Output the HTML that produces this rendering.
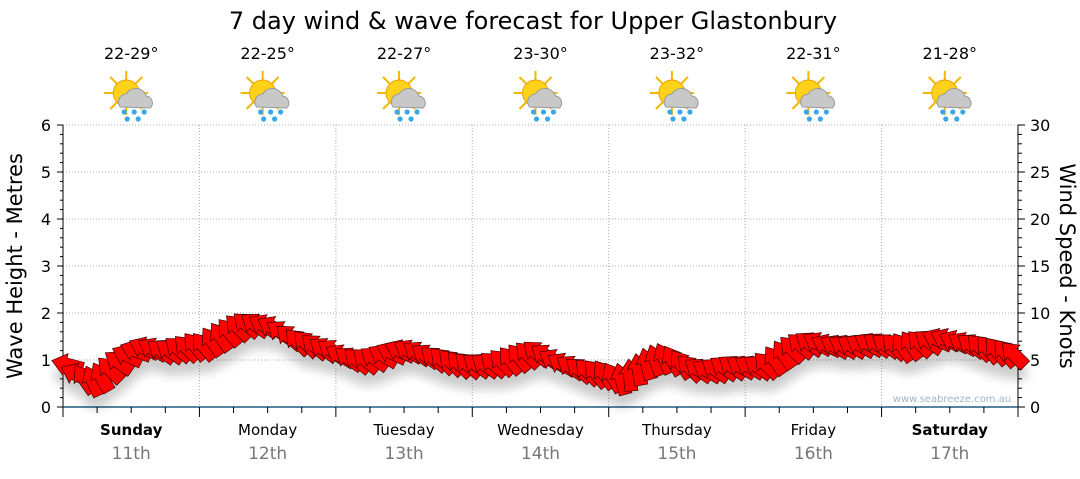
<!DOCTYPE html>
<html><head><meta charset="utf-8"><style>
body{margin:0;background:#fff;width:1080px;height:475px;overflow:hidden;font-family:"DejaVu Sans","Liberation Sans",sans-serif}
</style></head><body>
<svg id="chart" width="1080" height="475" xmlns="http://www.w3.org/2000/svg">
<defs>
<filter id="sh" x="-50%" y="-50%" width="200%" height="200%"><feGaussianBlur stdDeviation="5"/></filter>
<g id="icon">
<g stroke="#f2b800" stroke-width="2">
<line x1="0" y1="-22" x2="0" y2="22"/><line x1="-22" y1="0" x2="22" y2="0"/>
<line x1="-16" y1="-16" x2="16" y2="16"/><line x1="-16" y1="16" x2="16" y2="-16"/>
</g>
<circle cx="0" cy="0" r="13" fill="#ffd21a" stroke="#f0a000"/>
<path d="M-6 14 a8 8 0 0 1 6 -13 a11 11 0 0 1 20 2 a7 7 0 0 1 4 12 z" fill="#c8c8c8" stroke="#999"/>
<g fill="#3aa7e8"><circle cx="-2" cy="19" r="2.6"/><circle cx="8" cy="19" r="2.6"/><circle cx="18" cy="19" r="2.6"/><circle cx="1" cy="26" r="2.6"/><circle cx="12" cy="26" r="2.6"/></g>
</g>
</defs>
<text x="533" y="29" text-anchor="middle" font-size="24" fill="#000">7 day wind &amp; wave forecast for Upper Glastonbury</text>
<g id="grid"></g>
<g id="axes"></g>
<g id="icons"></g>
<g id="shadow" filter="url(#sh)" opacity="0.2"></g>
<g id="arrows"></g>
<text x="952" y="402" text-anchor="middle" font-size="10" fill="#a0b4c8">www.seabreeze.com.au</text>
<text transform="translate(22,266) rotate(-90)" text-anchor="middle" font-size="21" fill="#000">Wave Height - Metres</text>
<text transform="translate(1060,266) rotate(90)" text-anchor="middle" font-size="21" fill="#000">Wind Speed - Knots</text>
</svg>
<script>
const days=["Sunday","Monday","Tuesday","Wednesday","Thursday","Friday","Saturday"];
const dates=["11th","12th","13th","14th","15th","16th","17th"];
const temps=["22-29°","22-25°","22-27°","23-30°","23-32°","22-31°","21-28°"];
const waveTicks=[0,1,2,3,4,5,6];
const windTicks=[0,5,10,15,20,25,30];
const windSpeed=[4.5,3.5,3,2.8,3.2,4,4.8,5.5,6,6.3,6.2,6,6,6.2,6.3,6.5,
6.5,7,7.5,8,8.5,8.8,8.8,8.7,8.5,8,7.5,7,6.8,6.5,6.2,6,
5.5,5.2,5,5,5.2,5.5,5.8,6,6,5.8,5.5,5.2,5,4.8,4.6,4.5,
4.5,4.5,4.6,4.8,5,5.3,5.6,5.8,5.5,5,4.6,4.3,4,3.8,3.6,3.5,
3.2,3,3.4,4,4.6,5,5.2,5,4.6,4.2,4,3.9,4,4.2,4.3,4.3,
4.3,4.3,4.5,5,5.6,6.2,6.6,6.8,6.8,6.6,6.5,6.5,6.5,6.6,6.7,6.7,
6.6,6.5,6.4,6.6,6.8,7,7.2,7.2,7,6.8,6.6,6.4,6.2,6,5.8,5.6];
const windDir=[195,205,235,245,240,225,215,205,200,205,210,215,215,220,225,230,
230,235,235,230,225,220,215,210,210,215,220,225,225,220,215,215,
210,215,220,220,215,210,205,205,210,215,215,220,225,225,225,220,
215,215,220,225,230,230,225,220,215,210,210,215,220,225,230,235,
240,255,265,260,255,250,245,240,235,225,215,210,215,215,215,210,
210,215,225,235,235,225,220,215,210,205,210,210,210,210,210,215,
215,225,235,235,225,215,205,205,205,210,215,225,230,230,230,225];
const L=63,R=1018,T=125,B=407;
const NS="http://www.w3.org/2000/svg";
const yW=v=>B-(v/6)*(B-T), yK=v=>B-(v/30)*(B-T);
const dayW=(R-L)/7, xI=i=>L+(i+0.5)*dayW/16;
function el(t,a,p){const e=document.createElementNS(NS,t);for(const k in a)e.setAttribute(k,a[k]);p.appendChild(e);return e;}
const grid=document.getElementById('grid'),axes=document.getElementById('axes');
waveTicks.forEach((v,i)=>{
 if(v>0){const g=el('line',{x1:L,x2:R,y1:yW(v),y2:yW(v),stroke:'#aaa','stroke-dasharray':'1,2'},grid);
 
 }
 const t=el('text',{x:46,y:yW(v)+6,'text-anchor':'middle','font-size':16,fill:'#000'},axes);t.textContent=v;
 
 
 el('line',{x1:L-6,x2:L,y1:yW(v),y2:yW(v),stroke:'#000'},axes);
});
for(let k=0;k<=30;k++){const y=yK(k);el('line',{x1:L-3,x2:L,y1:y,y2:y,stroke:'#000'},axes);el('line',{x1:R,x2:R+(k%5?4:7),y1:y,y2:y,stroke:'#000'},axes);}
windTicks.forEach(v=>{const t=el('text',{x:R+12,y:yK(v)+6,'font-size':16,fill:'#000'},axes);t.textContent=v;
 
 });
el('line',{x1:L,x2:L,y1:T,y2:B,stroke:'#000'},axes);
el('line',{x1:R,x2:R,y1:T,y2:B,stroke:'#000'},axes);
el('line',{x1:L,x2:R,y1:B,y2:B,stroke:'#1f5a80','stroke-width':1.5},axes);
for(let d=0;d<7;d++){
 const x0=L+d*dayW;
 if(d>0){const g=el('line',{x1:x0,x2:x0,y1:T,y2:B,stroke:'#aaa','stroke-dasharray':'1,2'},grid);
 
 }
 for(let q=0;q<4;q++)el('line',{x1:x0+q*dayW/4,x2:x0+q*dayW/4,y1:B,y2:B+(q?6:10),stroke:'#000'},axes);
 const cx=x0+dayW/2,bold=(d==0||d==6);
 const a=el('text',{x:cx,y:435,'text-anchor':'middle','font-size':15,'font-weight':bold?'bold':'normal',fill:'#000'},axes);a.textContent=days[d];
 
 
 const b=el('text',{x:cx,y:459,'text-anchor':'middle','font-size':17,fill:'#777'},axes);b.textContent=dates[d];
 
 
 const t=el('text',{x:cx,y:59,'text-anchor':'middle','font-size':16,fill:'#000'},document.getElementById('icons'));t.textContent=temps[d];
 
 
 const u=el('use',{href:'#icon',transform:`translate(${cx-5},${93})`},document.getElementById('icons'));
 
 
}
el('line',{x1:R,x2:R,y1:B,y2:B+10,stroke:'#000'},axes);
const arrowPath="M-16 0 L-2 -11 L-2 -6.5 L16 -6.5 L16 6.5 L-2 6.5 L-2 11 Z";
const ag=document.getElementById('arrows'),sg=document.getElementById('shadow');
windSpeed.forEach((v,i)=>{
 const x=xI(i),y=yK(v),r=windDir[i]-180;
 el('path',{d:arrowPath,transform:`translate(${x},${y+12}) rotate(${r})`,fill:'#000'},sg);
 const p=el('path',{d:arrowPath,transform:`translate(${x},${y}) rotate(${r})`,fill:'#f00',stroke:'#400','stroke-width':0.7},ag);
 
 
});
</script>
</body></html>
